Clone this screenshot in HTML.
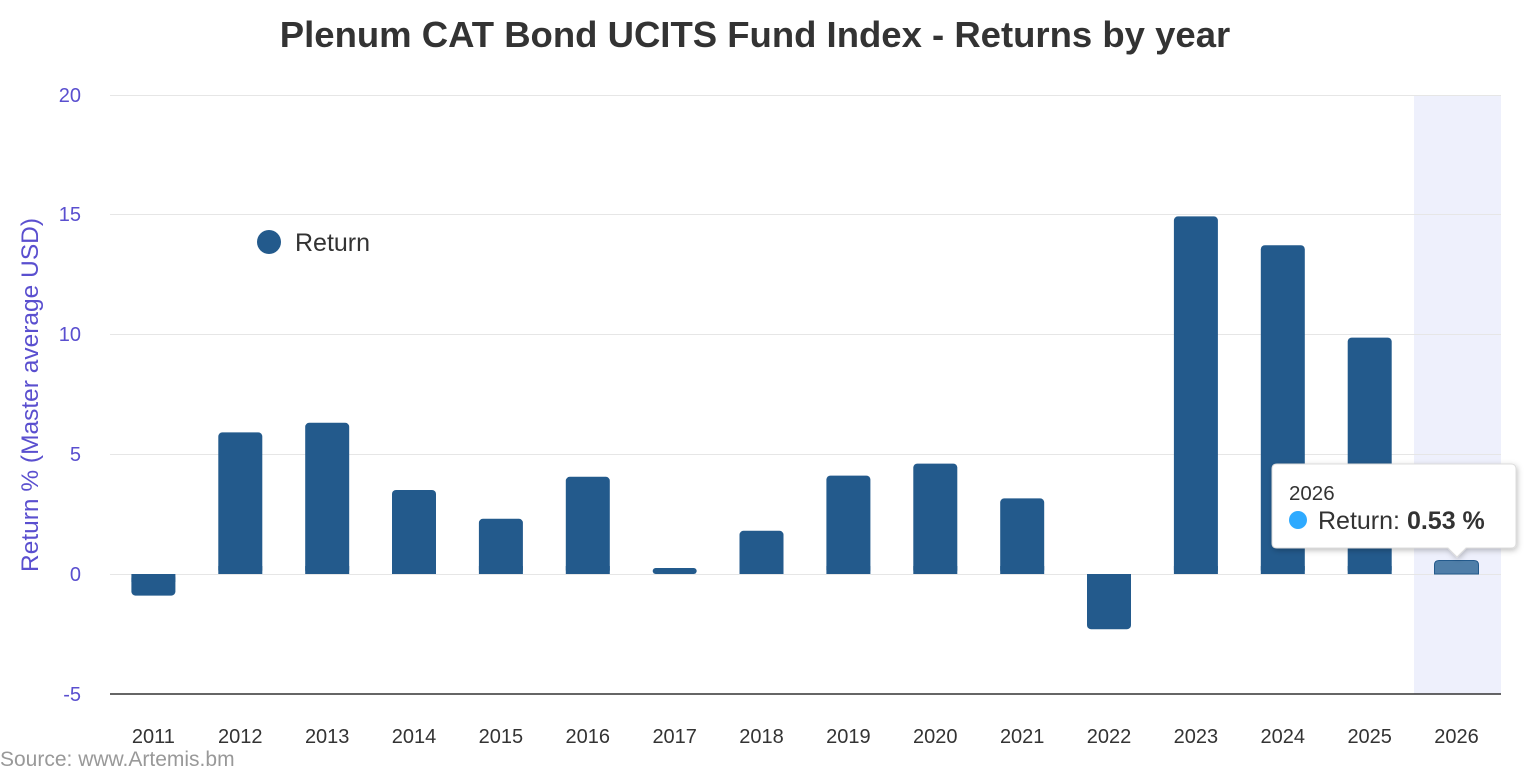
<!DOCTYPE html>
<html><head><meta charset="utf-8"><style>
html,body{margin:0;padding:0;background:#fff;width:1536px;height:776px;overflow:hidden}
svg{font-family:"Liberation Sans",sans-serif}
</style></head><body>
<svg width="1536" height="776" xmlns="http://www.w3.org/2000/svg">
<text x="755" y="47" text-anchor="middle" font-size="36.5" font-weight="bold" fill="#333">Plenum CAT Bond UCITS Fund Index - Returns by year</text>
<rect x="1414" y="95" width="87" height="599" fill="#eef0fc"/>
<g stroke="#e6e6e6" stroke-width="1">
<line x1="110" x2="1501" y1="95.5" y2="95.5"/>
<line x1="110" x2="1501" y1="214.5" y2="214.5"/>
<line x1="110" x2="1501" y1="334.5" y2="334.5"/>
<line x1="110" x2="1501" y1="454.5" y2="454.5"/>
<line x1="110" x2="1501" y1="574.5" y2="574.5"/>
</g>
<line x1="110" x2="1501" y1="694" y2="694" stroke="#333" stroke-width="1.5"/>
<g font-size="20" fill="#5a4fcf" text-anchor="end">
<text x="81" y="102">20</text><text x="81" y="221">15</text><text x="81" y="341">10</text><text x="81" y="461">5</text><text x="81" y="581">0</text><text x="81" y="701">-5</text>
</g>
<text transform="translate(38,395) rotate(-90)" text-anchor="middle" font-size="24.5" fill="#5a4fcf">Return % (Master average USD)</text>
<g fill="#235a8c">
<rect x="131.4" y="574" width="44" height="21.6" rx="4"/><rect x="131.4" y="574" width="44" height="8"/>
<rect x="218.3" y="432.4" width="44" height="141.6" rx="4"/><rect x="218.3" y="566" width="44" height="8"/>
<rect x="305.2" y="422.8" width="44" height="151.2" rx="4"/><rect x="305.2" y="566" width="44" height="8"/>
<rect x="392" y="490" width="44" height="84" rx="4"/><rect x="392" y="566" width="44" height="8"/>
<rect x="478.9" y="518.8" width="44" height="55.2" rx="4"/><rect x="478.9" y="566" width="44" height="8"/>
<rect x="565.8" y="476.8" width="44" height="97.2" rx="4"/><rect x="565.8" y="566" width="44" height="8"/>
<rect x="652.7" y="568" width="44" height="6" rx="3"/>
<rect x="739.5" y="530.8" width="44" height="43.2" rx="4"/><rect x="739.5" y="566" width="44" height="8"/>
<rect x="826.4" y="475.6" width="44" height="98.4" rx="4"/><rect x="826.4" y="566" width="44" height="8"/>
<rect x="913.3" y="463.6" width="44" height="110.4" rx="4"/><rect x="913.3" y="566" width="44" height="8"/>
<rect x="1000.2" y="498.4" width="44" height="75.6" rx="4"/><rect x="1000.2" y="566" width="44" height="8"/>
<rect x="1087" y="574" width="44" height="55.2" rx="4"/><rect x="1087" y="574" width="44" height="8"/>
<rect x="1173.9" y="216.4" width="44" height="357.6" rx="4"/><rect x="1173.9" y="566" width="44" height="8"/>
<rect x="1260.8" y="245.2" width="44" height="328.8" rx="4"/><rect x="1260.8" y="566" width="44" height="8"/>
<rect x="1347.7" y="337.6" width="44" height="236.4" rx="4"/><rect x="1347.7" y="566" width="44" height="8"/>
</g>
<path d="M1434.5 574 V565 Q1434.5 560.5 1439 560.5 H1474 Q1478.5 560.5 1478.5 565 V574 Z" fill="#4f7ea8" stroke="#235a8c" stroke-width="1"/>
<g font-size="20" fill="#333" text-anchor="middle">
<text x="153.4" y="743">2011</text><text x="240.3" y="743">2012</text><text x="327.2" y="743">2013</text><text x="414" y="743">2014</text><text x="500.9" y="743">2015</text><text x="587.8" y="743">2016</text><text x="674.7" y="743">2017</text><text x="761.5" y="743">2018</text><text x="848.4" y="743">2019</text><text x="935.3" y="743">2020</text><text x="1022.2" y="743">2021</text><text x="1109" y="743">2022</text><text x="1195.9" y="743">2023</text><text x="1282.8" y="743">2024</text><text x="1369.7" y="743">2025</text><text x="1456.5" y="743">2026</text>
</g>
<circle cx="269" cy="242" r="12" fill="#235a8c"/>
<text x="295" y="251" font-size="25" fill="#333">Return</text>
<text x="0" y="766" font-size="21" fill="#999">Source: www.Artemis.bm</text>
<defs><filter id="sh" x="-10%" y="-10%" width="120%" height="130%"><feDropShadow dx="1" dy="2" stdDeviation="3" flood-opacity="0.25"/></filter></defs>
<path d="M1277 464 H1511 Q1516 464 1516 469 V543 Q1516 548 1511 548 H1466 L1457 557 L1448 548 H1277 Q1272 548 1272 543 V469 Q1272 464 1277 464 Z" fill="#fff" stroke="#ddd" filter="url(#sh)"/>
<text x="1289" y="500" font-size="20.5" fill="#333">2026</text>
<circle cx="1298" cy="520" r="9" fill="#2eaaff"/>
<text x="1318" y="529" font-size="25" fill="#333">Return: <tspan font-weight="bold">0.53 %</tspan></text>
</svg>
</body></html>
